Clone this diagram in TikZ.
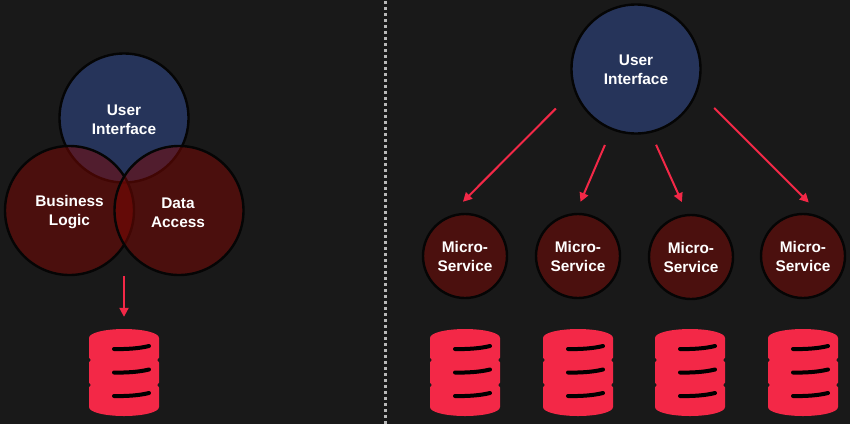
\documentclass[tikz,border=0pt]{standalone}
\usepackage{fontspec}
\setmainfont{Liberation Sans}
\usetikzlibrary{arrows.meta}
\definecolor{bg}{HTML}{191919}
\definecolor{uiblue}{HTML}{26345A}
\definecolor{msred}{HTML}{4B100E}
\definecolor{vennred}{RGB}{125,7,3}
\definecolor{accent}{HTML}{F32847}
\definecolor{rim}{HTML}{050505}
\tikzset{
  x=1pt,y=-1pt,
  circ/.style={circle,draw=rim,line width=2.4pt,inner sep=0pt,align=center,text=white,font=\bfseries\fontsize{15.4}{19}\selectfont},
  label/.style={circ,draw=none,fill=none,minimum size=10pt},
  uinode/.style={circ,fill=uiblue,minimum size=129pt},
  vennnode/.style={circ,fill=vennred,fill opacity=.5,draw opacity=1,minimum size=129pt},
  msnode/.style={circ,fill=msred,minimum size=84pt},
  dbnode/.style={minimum width=70pt,minimum height=87pt,inner sep=0pt,draw=none},
  arrow/.style={draw=accent,line width=2pt,-{Triangle[length=9pt,width=9pt]}},
  pics/dbicon/.style={code={
    \fill[accent] (-35,-34.5) .. controls (-35,-40) and (-18,-43.5) .. (0,-43.5) .. controls (18,-43.5) and (35,-40) .. (35,-34.5)
      -- (35,-15) .. controls (35,-13.5) and (33.2,-13.5) .. (33.2,-12.5) .. controls (33.2,-11.5) and (35,-11.5) .. (35,-10)
      -- (35,10) .. controls (35,11.5) and (33.2,11.5) .. (33.2,12.5) .. controls (33.2,13.5) and (35,13.5) .. (35,15)
      -- (35,34.5) .. controls (35,40) and (18,43.5) .. (0,43.5) .. controls (-18,43.5) and (-35,40) .. (-35,34.5)
      -- (-35,15) .. controls (-35,13.5) and (-33.2,13.5) .. (-33.2,12.5) .. controls (-33.2,11.5) and (-35,11.5) .. (-35,10)
      -- (-35,-10) .. controls (-35,-11.5) and (-33.2,-11.5) .. (-33.2,-12.5) .. controls (-33.2,-13.5) and (-35,-13.5) .. (-35,-15) -- cycle;
    \foreach \yy in {-23.5,0,23.5}{
      \draw[black,line width=4pt,line cap=round] (-10,\yy) .. controls (2,\yy+0.3) and (15,\yy-0.5) .. (25,\yy-3);
    }
  }}
}
\begin{document}
\begin{tikzpicture}
\useasboundingbox (0,0) rectangle (850,424);
\fill[bg] (0,0) rectangle (850,424);
% divider
\coordinate (divtop) at (385.7,1);
\coordinate (divbot) at (385.7,424);
\draw[color=white!72!black,line width=3pt,dash pattern=on 3pt off 3pt] (divtop) -- (divbot);
% left
\node[uinode] (lui) at (124,118) {};
\node[vennnode] (biz) at (69.5,210.5) {};
\node[vennnode] (data) at (179,210.5) {};
\node[label] (biztext) at (69.5,212.5) {Business\\Logic};
\node[label] (datatext) at (178,212.5) {Data\\Access};
\node[label] (luitext) at (124,119.5) {User\\Interface};
\node[dbnode] (db0) at (124,372.5) {};
\pic at (124,372.5) {dbicon};
\coordinate (venn) at (124,276);
\draw[arrow,shorten >=12pt] (venn) -- (db0.north);
% right
\node[uinode] (ui) at (636,69) {};
\node[label] (uitext) at (636,70) {User\\Interface};
\node[msnode] (ms1) at (465,256) {Micro-\\Service};
\node[msnode] (ms2) at (578,256) {Micro-\\Service};
\node[msnode] (ms3) at (691,257) {Micro-\\Service};
\node[msnode] (ms4) at (803,256) {Micro-\\Service};
\foreach \n/\xx in {1/465,2/578,3/690,4/803}{
  \node[dbnode] (db\n) at (\xx,372.5) {};
  \pic at (\xx,372.5) {dbicon};
}
\draw[arrow,shorten <=25.5pt,shorten >=20pt] (ui.199) -- (ms1.112.3);
\draw[arrow,shorten <=16.4pt,shorten >=12pt] (ui.248.9) -- (ms2.93);
\draw[arrow,shorten <=12.9pt,shorten >=13pt] (ui.283.2) -- (ms3.95);
\draw[arrow,shorten <=23.3pt,shorten >=23.3pt] (ui.-20.4) -- (ms4.59.5);
\end{tikzpicture}
\end{document}
